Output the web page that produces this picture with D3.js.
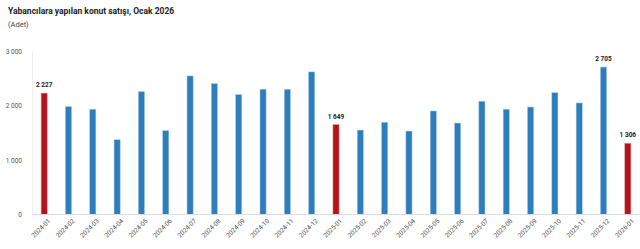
<!DOCTYPE html>
<html>
<head>
<meta charset="utf-8">
<script src="https://cdn.jsdelivr.net/npm/d3@7"></script>
<style>
  body { margin: 0; background: #fff; font-family: Roboto, "Liberation Sans", sans-serif; }
  svg { display: block; }
</style>
</head>
<body>
<svg id="chart" width="640" height="249"></svg>
<script>
// months on the x axis
const months = ['2024-01','2024-02','2024-03','2024-04','2024-05','2024-06','2024-07','2024-08',
  '2024-09','2024-10','2024-11','2024-12','2025-01','2025-02','2025-03','2025-04','2025-05',
  '2025-06','2025-07','2025-08','2025-09','2025-10','2025-11','2025-12','2026-01'];

// sales to foreigners (units)
const sales = [2227, 1978, 1930, 1371, 2254, 1537, 2542, 2401,
  2199, 2298, 2296, 2616, 1649, 1549, 1691, 1531, 1899,
  1678, 2077, 1930, 1972, 2235, 2046, 2705, 1306];

// january bars are red and carry a label, december 2025 too
const highlighted = ['2024-01', '2025-01', '2026-01'];
const labelled = ['2024-01', '2025-01', '2025-12', '2026-01'];

const yTicks = [0, 1000, 2000, 3000];

const data = months.map((m, i) => ({ month: m, value: sales[i] }));

const svg = d3.select('#chart');
const margin = { top: 51, right: 0, bottom: 35, left: 32 };
const width = 640;
const height = 249;

const fmt = v => d3.format(',')(v).replace(/,/g, ' ');

const x = d3.scaleBand()
  .domain(months)
  .range([margin.left, width - margin.right])
  .paddingInner(0.75)
  .paddingOuter(0.375);

const y = d3.scaleLinear()
  .domain([0, 3000])
  .range([height - margin.bottom + 0.5, margin.top]);

// title
svg.append('text')
  .attr('x', 8).attr('y', 14)
  .attr('font-size', 8.5).attr('font-weight', 'bold').attr('fill', '#222')
  .text('Yabancılara yapılan konut satışı, Ocak 2026');
svg.append('text')
  .attr('x', 8).attr('y', 27)
  .attr('font-size', 7.5).attr('fill', '#444')
  .text('(Adet)');

// y axis line (faint)
svg.append('line')
  .attr('x1', margin.left + 0.5).attr('x2', margin.left + 0.5)
  .attr('y1', y(3000)).attr('y2', y(0))
  .attr('stroke', '#eee');

// y axis labels
const yAxis = svg.append('g')
  .attr('transform', `translate(${margin.left - 7}, 0)`)
  .call(d3.axisLeft(y).tickValues(yTicks).tickSize(0).tickFormat(fmt));
yAxis.select('.domain').remove();
yAxis.selectAll('text')
  .attr('font-family', 'Roboto, sans-serif')
  .attr('font-size', 6.5).attr('fill', '#555');

// bars
svg.append('g')
  .selectAll('rect')
  .data(data)
  .enter()
  .append('rect')
  .attr('x', d => x(d.month))
  .attr('y', d => y(d.value))
  .attr('width', x.bandwidth())
  .attr('height', d => y(0) - y(d.value))
  .attr('fill', d => highlighted.includes(d.month) ? '#b3141c' : '#2e7dbd')
  .attr('stroke', d => highlighted.includes(d.month) ? '#d88a8e' : '#9cc3e3')
  .attr('stroke-width', 0.5);

// value labels
svg.append('g')
  .selectAll('text')
  .data(data.filter(d => labelled.includes(d.month)))
  .enter()
  .append('text')
  .attr('x', d => x(d.month) + x.bandwidth() / 2)
  .attr('y', d => y(d.value) - 6)
  .attr('text-anchor', 'middle')
  .attr('font-size', 6.5).attr('font-weight', 'bold').attr('fill', '#222')
  .text(d => fmt(d.value));

// x axis
const xAxis = svg.append('g')
  .attr('transform', `translate(0, ${y(0)})`)
  .call(d3.axisBottom(x).tickSize(0).tickPadding(0));
xAxis.select('.domain').attr('stroke', '#ddd').attr('d', `M${margin.left},0H${width}`);
xAxis.selectAll('text')
  .attr('font-family', 'Roboto, sans-serif')
  .attr('font-size', 6.5).attr('fill', '#555')
  .style('text-anchor', 'end')
  .attr('dx', '0.2em')
  .attr('dy', '0.6em')
  .attr('transform', 'translate(3,5) rotate(-45)');
</script>
</body>
</html>
